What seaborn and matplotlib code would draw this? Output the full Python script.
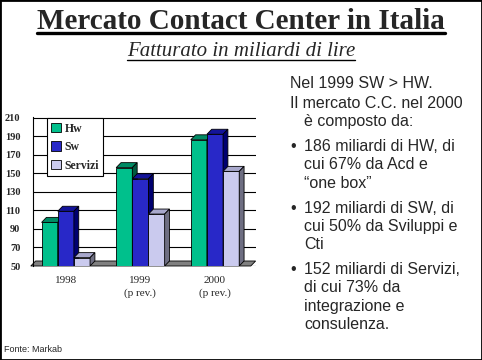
import numpy as np
import pandas as pd
import seaborn as sns
import matplotlib.pyplot as plt
from matplotlib.patches import Polygon, Rectangle
from matplotlib.lines import Line2D

# dati (miliardi di lire)
anni = ['1998', '1999\n(p rev.)', '2000\n(p rev.)']
serie = ['Hw', 'Sw', 'Servizi']
hw = [97, 156, 186]
sw = [109, 144, 192]
servizi = [59, 106, 152]
yticks = list(range(50, 211, 20))

titolo = 'Mercato Contact Center in Italia'
sottotitolo = 'Fatturato in miliardi di lire'
intro = ['Nel 1999 SW > HW.', 'Il mercato C.C. nel 2000', 'è composto da:']
punti = [['186 miliardi di HW, di', 'cui 67% da Acd e', '“one box”'],
         ['192 miliardi di SW, di', 'cui 50% da Sviluppi e', 'Cti'],
         ['152 miliardi di Servizi,', 'di cui 73% da', 'integrazione e', 'consulenza.']]
fonte = 'Fonte: Markab'

front = ['#00C08C', '#2828C8', '#CACAEE']
top = ['#008A64', '#14149A', '#A8A8CC']
side = ['#005A40', '#000070', '#6E6E82']

df = pd.DataFrame({'anno': anni * 3,
                   'serie': np.repeat(serie, 3),
                   'valore': hw + sw + servizi})

W, H = 482, 360
sns.set_style('white')
fig = plt.figure(figsize=(W / 100, H / 100), dpi=100)
fig.patch.set_facecolor('white')

def px(x, y):
    return x / W, 1 - y / H

ax = fig.add_axes([33 / W, 1 - 266 / H, 223 / W, 149 / H])
sns.barplot(data=df, x='anno', y='valore', hue='serie', palette=front,
            width=0.65, saturation=1, edgecolor='black', linewidth=0.6, ax=ax)
ax.set_xlim(-0.44, 2.55)
ax.set_ylim(50, 210.6)
ax.set_yticks(yticks)
ax.set_xlabel('')
ax.set_ylabel('')
ax.set_axisbelow(True)
ax.yaxis.grid(True, color='black', linewidth=0.8)
ax.patch.set_alpha(0)
for s in ['top', 'right', 'bottom']:
    ax.spines[s].set_visible(False)
ax.spines['left'].set_color('black')
ax.spines['left'].set_linewidth(0.8)
ax.tick_params(axis='y', direction='out', length=5, color='black', pad=4)
ax.tick_params(axis='x', length=0, pad=7)
for t in ax.get_yticklabels():
    t.set_family('Liberation Serif'); t.set_fontsize(7.5); t.set_fontweight('bold')
for t in ax.get_xticklabels():
    t.set_family('Liberation Serif'); t.set_fontsize(8); t.set_linespacing(1.5)

dx, dy = 0.065, 5.4
floor = Polygon([(-0.47, 50), (2.48, 50), (2.48 + dx, 50 + dy), (-0.47 + dx, 50 + dy)],
                closed=True, facecolor='#808080', edgecolor='black', lw=0.6,
                clip_on=False, zorder=2)
ax.add_patch(floor)

for i, cont in enumerate(ax.containers):
    for bar in cont:
        x0, w, h = bar.get_x(), bar.get_width(), bar.get_height()
        x1 = x0 + w
        bar.set_zorder(3 + i)
        ax.add_patch(Polygon([(x0, h), (x1, h), (x1 + dx, h + dy), (x0 + dx, h + dy)],
                             facecolor=top[i], edgecolor='black', lw=0.6, zorder=3 + i))
        ax.add_patch(Polygon([(x1, 50), (x1, h), (x1 + dx, h + dy), (x1 + dx, 50 + dy)],
                             facecolor=side[i], edgecolor='black', lw=0.6, zorder=3 + i))

leg = ax.legend(loc='upper left', bbox_to_anchor=(0.063, 0.99), frameon=True,
                fancybox=False, edgecolor='black', framealpha=1,
                prop={'family': 'Liberation Serif', 'weight': 'bold', 'size': 8.5},
                handlelength=0.8, handleheight=0.9, borderpad=0.35,
                labelspacing=0.55, handletextpad=0.35, borderaxespad=0)
leg.get_frame().set_linewidth(0.8)
leg.set_zorder(10)

# titoli
t1 = fig.text(*px(241, 29), titolo, ha='center', va='baseline', fontsize=21,
              fontweight='bold', family='Liberation Serif')
t2 = fig.text(*px(241, 56), sottotitolo, ha='center', va='baseline', fontsize=15,
              style='italic', family='Liberation Serif')
fig.canvas.draw()
for t, y, lw in [(t1, 33, 2.4), (t2, 60, 1.0)]:
    bb = t.get_window_extent()
    fig.add_artist(Line2D([bb.x0 / W, bb.x1 / W], [1 - y / H, 1 - y / H],
                          transform=fig.transFigure, color='black', lw=lw))

# testo a destra
fs = 11.5
fam = 'Liberation Sans'
lh, gap = 18.2, 7
y = 83
fig.text(*px(290, y), intro[0], va='center', fontsize=fs, family=fam)
y += lh + 2
fig.text(*px(290, y), intro[1], va='center', fontsize=fs, family=fam)
y += lh
fig.text(*px(304, y), intro[2], va='center', fontsize=fs, family=fam)
y += lh + gap
for p in punti:
    fig.text(*px(290, y), '•', va='center', fontsize=fs, family=fam)
    for j, riga in enumerate(p):
        fig.text(*px(304, y), riga, va='center', fontsize=fs, family=fam)
        y += lh
    y += gap

fig.text(*px(4, 350), fonte, va='center', fontsize=6.5, family=fam)

fig.add_artist(Rectangle((0, 0), 1, 1, transform=fig.transFigure, fill=False,
                         edgecolor='black', lw=2))

fig.savefig('out.png', dpi=100)
